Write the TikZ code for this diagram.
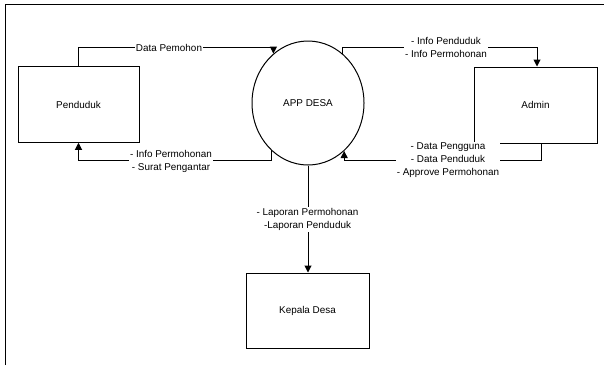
\documentclass[tikz,border=0pt]{standalone}
\usepackage{fontspec}
\setmainfont{Liberation Sans}
\usetikzlibrary{arrows.meta,calc,shapes.geometric}
\begin{document}
\begin{tikzpicture}[x=1pt,y=-1pt,
  ent/.style={draw,line width=1pt,minimum width=121pt,minimum height=75.5pt,inner sep=0pt,font=\fontsize{9.9}{12}\selectfont},
  proc/.style={draw,ellipse,line width=1pt,minimum width=112pt,minimum height=124pt,inner sep=0pt,font=\fontsize{9.9}{12}\selectfont},
  flow/.style={line width=1pt,-{Triangle[length=7pt,width=7pt]}},
  lbl/.style={fill=white,align=center,inner sep=1pt,font=\fontsize{9.9}{13}\selectfont}]
\useasboundingbox (0,0) rectangle (604,365);
\draw[line width=1.8pt] (5.5,365) -- (5.5,4.5) -- (604,4.5);
\node[ent] (pend) at (78.5,104.5) {Penduduk};
\node[ent,minimum width=123pt,minimum height=76pt] (admin) at (535.5,105) {Admin};
\node[ent,minimum width=123pt,minimum height=75pt] (kep) at (307.5,310.5) {Kepala Desa};
\node[proc] (app) at (308,103) {APP DESA};
% flows
\draw[flow] (pend.north) -- ++(0,-19) -| (app.125.8);
\node[lbl] (l1) at (169,48) {Data Pemohon};
\draw[flow] (app.232.8) |- ($(pend.south)+(0,18)$) -- (pend.south);
\node[lbl] (l2) at (171,161) {- Info Permohonan\\- Surat Pengantar};
\draw[flow] (app.55.2) |- ($(admin.north)+(1.5,-19)$) -- ($(admin.north)+(1.5,0)$);
\node[lbl] (l3) at (446,47.5) {- Info Penduduk\\- Info Permohonan};
\draw[flow] ($(admin.south)+(5.5,0)$) -- ++(0,17) -| (app.-53.6);
\node[lbl] (l4) at (448,160) {- Data Pengguna\\- Data Penduduk\\- Approve Permohonan};
\draw[flow] (app.south) -- (app.south |- kep.north);
\node[lbl] (l5) at (307.5,219.5) {- Laporan Permohonan\\-Laporan Penduduk};
\end{tikzpicture}
\end{document}
